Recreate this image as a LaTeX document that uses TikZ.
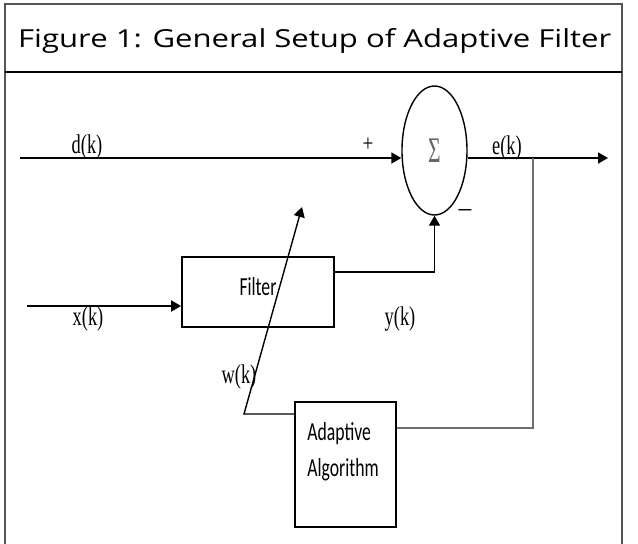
\documentclass[tikz,border=0pt]{standalone}
\usepackage{fontspec}
\usepackage{graphicx}
\usepackage{xcolor}
\usepackage{tikz}
\usetikzlibrary{positioning,arrows.meta,shapes.geometric,calc}

\newfontfamily\titlefont{Open Sans}
\newfontfamily\boxfont{Carlito}
\newfontfamily\sigfont{Liberation Serif}
\newcommand{\narrowtext}[1]{\scalebox{0.68}[1]{#1}}

\definecolor{framegray}{HTML}{555555}
\definecolor{fbgray}{HTML}{6E6E6E}
\definecolor{sigmagray}{HTML}{666666}

\begin{document}
\begin{tikzpicture}[
  x=1pt, y=-1pt,
  font=\sigfont\fontsize{27}{30}\selectfont,
  box/.style={draw, line width=1.8pt, inner sep=0pt},
  sum/.style={draw, ellipse, line width=1.4pt, inner sep=0pt,
              minimum width=65pt, minimum height=129pt},
  lbl/.style={inner sep=0pt},
  arr/.style={-{Triangle[length=10pt,width=11pt]}, line width=1.8pt},
  fb/.style={draw=fbgray, line width=1.3pt}
]
\useasboundingbox (0,0) rectangle (638,544);

\draw[framegray, line width=1.6pt] (5,544) -- (5,4) -- (622,4) -- (622,544);
\draw[line width=1.6pt] (5,72) -- (622,72);
\node[lbl, anchor=base west] (title) at (18,47)
  {\resizebox{593pt}{19pt}{\titlefont Figure 1: General Setup of Adaptive Filter}};

\node[sum] (sum) at (434.5,150.5)
  {\color{sigmagray}\scalebox{0.6}[1]{\fontsize{36}{36}\selectfont Σ}};
\node[box, minimum width=152pt, minimum height=70pt, text depth=12pt,
      font=\boxfont\fontsize{26}{30}\selectfont] (filt) at (258,292) {\narrowtext{Filter}};
\node[box, minimum width=101pt, minimum height=125pt] (alg) at (345.5,464.5) {};
\node[lbl, font=\boxfont\fontsize{26}{36}\selectfont, align=left,
      below right=21pt and 13pt of alg.north west] (algtxt)
  {\narrowtext{Adaptive}\\\narrowtext{Algorithm}};

\coordinate (din) at (20,158);
\coordinate (xin) at (27,306);
\coordinate (eout) at (608,158);
\coordinate (tap) at (533,158);
\coordinate (wfoot) at (244,414);
\coordinate (wtip) at (302,207);

\draw[arr] (din) -- (din -| sum.west);
\draw[arr] (din -| sum.east) -- (eout);
\draw[arr] (xin) -- (xin -| filt.west);
\draw[arr] ([yshift=20pt]filt.east) -| (sum.south);
\draw[fb] (tap) |- ([yshift=36.5pt]alg.east);
\draw[arr, line width=1.4pt] (wfoot -| alg.west) -- (wfoot) -- (wtip);

\node[lbl] (dlbl) at (87,147) {\narrowtext{d(k)}};
\node[lbl] (elbl) at (507,148) {\narrowtext{e(k)}};
\node[lbl] (xlbl) at (88,319) {\narrowtext{x(k)}};
\node[lbl] (ylbl) at (400,319) {\narrowtext{y(k)}};
\node[lbl] (wlbl) at (239,377) {\narrowtext{w(k)}};
\node[lbl, font=\sigfont\fontsize{24}{24}\selectfont] (plus) at (368,145) {\scalebox{0.8}[1]{+}};
\node[lbl, anchor=base, font=\sigfont\fontsize{28}{28}\selectfont] (minus) at (465,219) {−};
\end{tikzpicture}
\end{document}
